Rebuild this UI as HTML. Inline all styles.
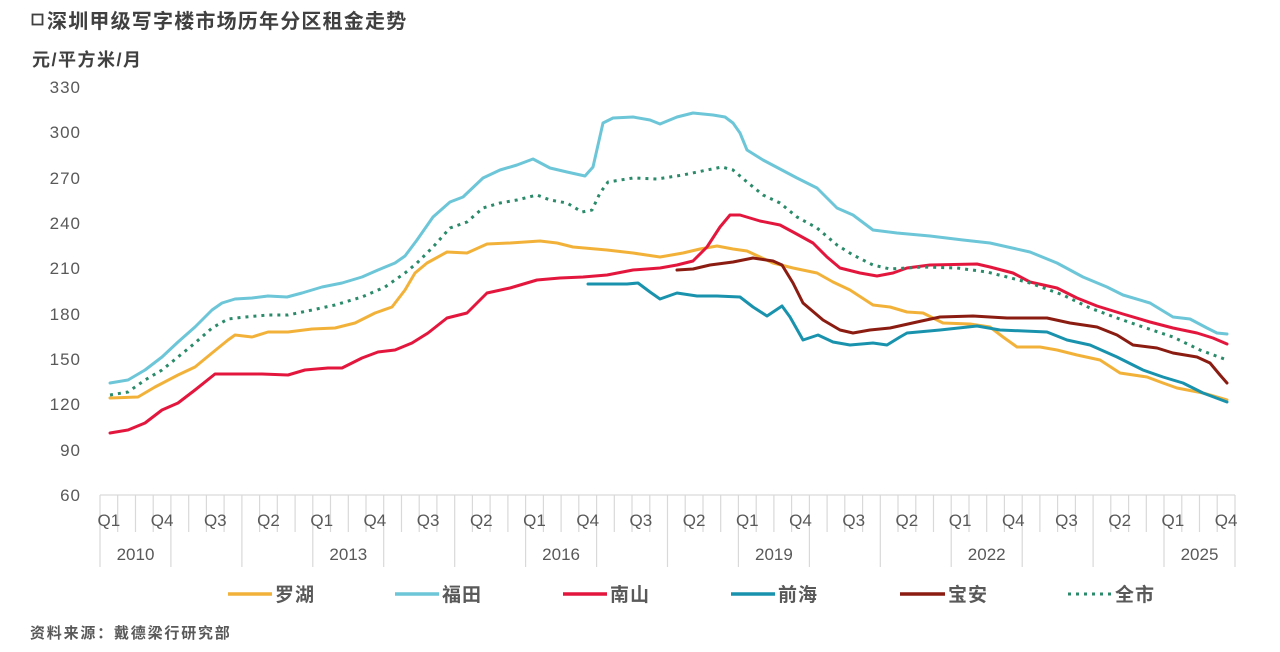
<!DOCTYPE html>
<html>
<head>
<meta charset="utf-8">
<style>
html,body{margin:0;padding:0;background:#fff;}
body{width:1280px;height:652px;overflow:hidden;}
svg{display:block;}
.t{font-family:"Liberation Sans","Noto Sans CJK SC",sans-serif;}
</style>
</head>
<body>
<svg width="1280" height="652" viewBox="0 0 1280 652" xmlns="http://www.w3.org/2000/svg">
<rect width="1280" height="652" fill="#fff"/>
<!-- title -->
<rect x="32.5" y="14.5" width="10" height="10" fill="none" stroke="#404040" stroke-width="1.8"/>
<text class="t" x="47" y="28" font-size="20" font-weight="bold" fill="#404040" letter-spacing="1.2">深圳甲级写字楼市场历年分区租金走势</text>
<text class="t" x="32" y="66" font-size="18" font-weight="bold" fill="#404040" letter-spacing="1.5">元/平方米/月</text>

<!-- y tick labels -->
<g class="t" font-size="17" fill="#595959" text-anchor="end" letter-spacing="1">
<text x="81" y="93">330</text>
<text x="81" y="138">300</text>
<text x="81" y="184">270</text>
<text x="81" y="229">240</text>
<text x="81" y="274">210</text>
<text x="81" y="320">180</text>
<text x="81" y="365">150</text>
<text x="81" y="410">120</text>
<text x="81" y="456">90</text>
<text x="81" y="501">60</text>
</g>

<!-- axis -->
<g stroke="#d9d9d9" stroke-width="1.2" fill="none">
<line x1="100" y1="495" x2="1235" y2="495"/>
<path d="M117.7 495V532M135.5 495V532M153.2 495V532M188.7 495V532M206.4 495V532M224.1 495V532M259.6 495V532M277.3 495V532M295.1 495V532M330.5 495V532M348.3 495V532M366 495V532M401.5 495V532M419.2 495V532M436.9 495V532M472.4 495V532M490.1 495V532M507.9 495V532M543.4 495V532M561.1 495V532M578.8 495V532M614.3 495V532M632 495V532M649.8 495V532M685.2 495V532M703 495V532M720.7 495V532M756.2 495V532M773.9 495V532M791.6 495V532M827.1 495V532M844.8 495V532M862.6 495V532M898 495V532M915.8 495V532M933.5 495V532M969 495V532M986.7 495V532M1004.4 495V532M1039.9 495V532M1057.6 495V532M1075.4 495V532M1110.8 495V532M1128.6 495V532M1146.3 495V532M1181.8 495V532M1199.5 495V532M1217.2 495V532"/>
<path d="M100 495V567M170.9 495V567M241.9 495V567M312.8 495V567M383.7 495V567M454.7 495V567M525.6 495V567M596.6 495V567M667.5 495V567M738.4 495V567M809.4 495V567M880.3 495V567M951.2 495V567M1022.2 495V567M1093.1 495V567M1164 495V567M1235 495V567"/>
</g>

<!-- x labels -->
<g class="t" font-size="17" fill="#595959" text-anchor="middle">
<text x="108.9" y="526">Q1</text>
<text x="162.1" y="526">Q4</text>
<text x="215.3" y="526">Q3</text>
<text x="268.5" y="526">Q2</text>
<text x="321.7" y="526">Q1</text>
<text x="374.9" y="526">Q4</text>
<text x="428.1" y="526">Q3</text>
<text x="481.3" y="526">Q2</text>
<text x="534.5" y="526">Q1</text>
<text x="587.7" y="526">Q4</text>
<text x="640.9" y="526">Q3</text>
<text x="694.1" y="526">Q2</text>
<text x="747.3" y="526">Q1</text>
<text x="800.5" y="526">Q4</text>
<text x="853.7" y="526">Q3</text>
<text x="906.9" y="526">Q2</text>
<text x="960.1" y="526">Q1</text>
<text x="1013.3" y="526">Q4</text>
<text x="1066.5" y="526">Q3</text>
<text x="1119.7" y="526">Q2</text>
<text x="1172.9" y="526">Q1</text>
<text x="1226.1" y="526">Q4</text>
<text x="135.5" y="560">2010</text>
<text x="348.3" y="560">2013</text>
<text x="561.1" y="560">2016</text>
<text x="773.9" y="560">2019</text>
<text x="986.7" y="560">2022</text>
<text x="1199.5" y="560">2025</text>
</g>

<!-- series -->
<g fill="none" stroke-width="3" stroke-linejoin="round" stroke-linecap="round">
<!-- 福田 -->
<polyline stroke="#6cc6d8" points="110,383 128,380 145,370 162,357 178,342 195,327 212,310 222,303 235,299 252,298 268,296 287,297 302,293 322,287 342,283 362,277 378,270 395,263 405,256 417,240 433,217 450,202 463,197 483,178 500,170 517,165 533,159 550,168 567,172 585,176 593,167 603,123 613,118 633,117 650,120 660,124 677,117 693,113 713,115 725,117 733,123 740,133 747,150 763,160 780,169 797,178 817,188 837,208 853,215 873,230 897,233 930,236 963,240 990,243 1030,252 1057,263 1083,277 1107,287 1123,295 1150,303 1173,317 1190,319 1207,328 1217,333 1227,334"/>
<!-- 罗湖 -->
<polyline stroke="#f2b23a" points="110,398 138,397 155,387 178,375 195,367 212,353 228,340 235,335 252,337 268,332 288,332 312,329 335,328 355,323 375,313 392,307 405,290 415,273 427,263 447,252 467,253 487,244 510,243 540,241 557,243 573,247 607,250 633,253 660,257 683,253 700,249 717,246 733,249 747,251 760,257 773,263 793,268 817,273 833,282 850,290 873,305 890,307 907,312 923,313 943,323 970,324 990,327 1003,337 1017,347 1040,347 1057,350 1077,355 1100,360 1120,373 1147,377 1163,383 1177,388 1203,393 1227,400"/>
<!-- 南山 -->
<polyline stroke="#e3173e" points="110,433 128,430 145,423 162,410 178,403 195,390 215,374 235,374 262,374 288,375 305,370 328,368 342,368 362,358 378,352 395,350 412,343 428,333 447,318 467,313 487,293 510,288 537,280 560,278 583,277 607,275 633,270 660,268 677,265 693,261 707,247 720,227 730,215 740,215 760,221 780,225 793,232 813,243 827,257 840,268 860,273 877,276 893,273 907,268 930,265 977,264 990,267 1013,273 1030,282 1057,288 1077,298 1097,306 1123,314 1150,322 1173,328 1197,333 1213,338 1227,344"/>
<!-- 前海 -->
<polyline stroke="#1993ad" points="588,284 627,284 638,283 650,292 660,299 677,293 697,296 717,296 740,297 753,307 767,316 782,306 790,317 803,340 818,335 833,342 850,345 873,343 887,345 900,337 907,333 940,330 977,326 1000,330 1047,332 1067,340 1090,345 1117,357 1143,370 1163,377 1183,383 1203,393 1227,402"/>
<!-- 宝安 -->
<polyline stroke="#8b1c12" points="677,270 693,269 710,265 733,262 753,258 773,261 782,265 793,283 803,303 823,320 840,330 853,333 870,330 890,328 917,322 940,317 973,316 1007,318 1047,318 1070,323 1097,327 1117,335 1133,345 1157,348 1173,353 1197,357 1210,363 1220,375 1227,383"/>
<!-- 全市 -->
<polyline stroke="#2a8a6a" stroke-linecap="butt" stroke-dasharray="3 5" points="110,395 128,392 145,380 162,370 178,357 195,343 212,328 228,319 245,317 268,315 288,315 312,310 335,305 362,297 385,287 405,273 417,263 433,247 450,228 467,222 483,208 500,203 517,200 537,195 550,200 567,203 582,212 592,210 600,193 608,182 633,178 657,179 683,175 707,170 722,167 733,170 747,182 763,195 780,203 797,217 817,228 837,245 853,255 873,265 890,269 923,267 957,268 987,272 1007,277 1030,283 1063,295 1090,308 1117,318 1143,327 1173,337 1200,350 1227,360"/>
</g>

<!-- legend -->
<g stroke-width="3.5" fill="none">
<line x1="228" y1="594" x2="272" y2="594" stroke="#f2b23a"/>
<line x1="395" y1="594" x2="439" y2="594" stroke="#6cc6d8"/>
<line x1="563" y1="594" x2="607" y2="594" stroke="#e3173e"/>
<line x1="731" y1="594" x2="775" y2="594" stroke="#1993ad"/>
<line x1="900" y1="594" x2="945" y2="594" stroke="#8b1c12"/>
<line x1="1068" y1="594" x2="1112" y2="594" stroke="#2a8a6a" stroke-width="3" stroke-dasharray="3 5"/>
</g>
<g class="t" font-size="19" font-weight="bold" fill="#595959" letter-spacing="1">
<text x="275" y="601">罗湖</text>
<text x="442" y="601">福田</text>
<text x="610" y="601">南山</text>
<text x="778" y="601">前海</text>
<text x="948" y="601">宝安</text>
<text x="1115" y="601">全市</text>
</g>

<text class="t" x="30" y="638" font-size="15" font-weight="bold" fill="#595959" letter-spacing="1.8">资料来源：戴德梁行研究部</text>
</svg>
</body>
</html>
